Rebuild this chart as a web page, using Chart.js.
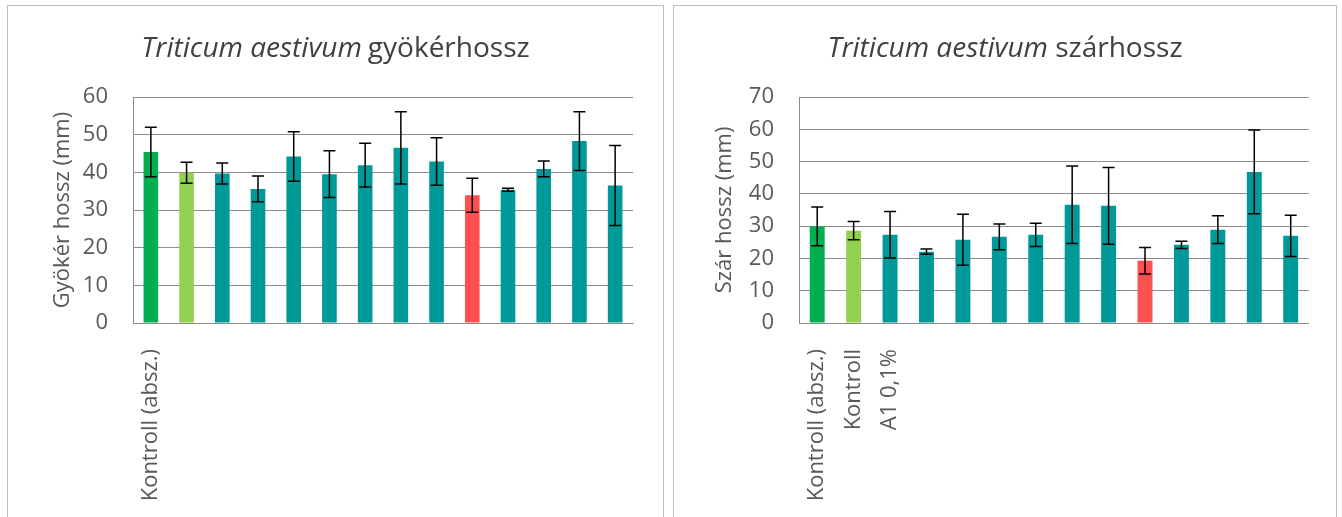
<!DOCTYPE html>
<html>
<head>
<meta charset="utf-8">
<script src="https://cdn.jsdelivr.net/npm/chart.js@4.4.0/dist/chart.umd.min.js"></script>
<style>
    html, body { margin: 0; padding: 0; background: #fff; overflow: hidden; }
    body { width: 1342px; height: 517px; position: relative; }
    .panel {
        position: absolute;
        top: 5px;
        height: 540px;
        border: 1px solid #bfbfbf;
        border-bottom: none;
        background: #fff;
    }
    #left { left: 7px; width: 655px; }
    #right { left: 673px; width: 662px; }
    canvas { display: block; }
</style>
</head>
<body>
<div class="panel" id="left"><canvas id="root" width="655" height="520"></canvas></div>
<div class="panel" id="right"><canvas id="shoot" width="662" height="520"></canvas></div>
<script>
// data
const rootLabels = ['Kontroll (absz.)', '', '', '', '', '', '', '', '', '', '', '', '', ''];
const rootMeans = [45.4, 39.9, 39.7, 35.6, 44.2, 39.5, 41.9, 46.5, 42.9, 33.9, 35.4, 40.9, 48.3, 36.5];
const rootErrors = [6.6, 2.8, 2.8, 3.4, 6.6, 6.2, 5.8, 9.6, 6.3, 4.5, 0.4, 2.1, 7.8, 10.6];
const rootTicks = [0, 60, 10];

const shootLabels = ['Kontroll (absz.)', 'Kontroll', 'A1 0,1%', '', '', '', '', '', '', '', '', '', '', ''];
const shootMeans = [29.9, 28.6, 27.3, 22.1, 25.8, 26.7, 27.3, 36.6, 36.3, 19.3, 24.2, 28.9, 46.8, 27.0];
const shootErrors = [6.0, 2.8, 7.2, 0.8, 7.9, 4.0, 3.6, 12.0, 11.9, 4.1, 1.1, 4.3, 13.0, 6.4];
const shootTicks = [0, 70, 10];

// ---------------------------------------------------------->

const teal = '#009999';
const barColors = ['#00B050', '#92D050', teal, teal, teal, teal, teal, teal, teal, '#FF5050', teal, teal, teal, teal];
const textColor = '#595959';
const gridColor = '#8c8c8c';
const family = '"Open Sans", sans-serif';

const errorBars = {
    id: 'errorBars',
    afterDatasetsDraw(chart, args, opts) {
        const { ctx } = chart;
        const y = chart.scales.y;
        const values = chart.data.datasets[0].data;
        ctx.save();
        ctx.strokeStyle = '#000';
        ctx.lineWidth = 1.5;
        chart.getDatasetMeta(0).data.forEach((bar, i) => {
            const top = y.getPixelForValue(values[i] + opts.errors[i]);
            const bottom = y.getPixelForValue(values[i] - opts.errors[i]);
            ctx.beginPath();
            ctx.moveTo(bar.x, top);
            ctx.lineTo(bar.x, bottom);
            ctx.moveTo(bar.x - 6, top);
            ctx.lineTo(bar.x + 6, top);
            ctx.moveTo(bar.x - 6, bottom);
            ctx.lineTo(bar.x + 6, bottom);
            ctx.stroke();
        });
        ctx.restore();
    },
};

// title with an italic species name and an upright rest
const splitTitle = {
    id: 'splitTitle',
    afterDraw(chart, args, opts) {
        const { ctx, width } = chart;
        ctx.save();
        ctx.fillStyle = '#404040';
        ctx.textBaseline = 'alphabetic';
        ctx.font = `italic 28px ${family}`;
        const w1 = ctx.measureText(opts.italic).width;
        ctx.font = `28px ${family}`;
        const w2 = ctx.measureText(opts.rest).width;
        const x = width / 2 - (w1 + opts.gap + w2) / 2;
        ctx.font = `italic 28px ${family}`;
        ctx.fillText(opts.italic, x, 51);
        ctx.font = `28px ${family}`;
        ctx.fillText(opts.rest, x + w1 + opts.gap, 51);
        ctx.restore();
    },
};

const makeChart = (id, labels, means, errors, ticks, yTitle, title, pad) => {
    new Chart(document.getElementById(id), {
        type: 'bar',
        data: {
            labels,
            datasets: [
                {
                    data: means,
                    backgroundColor: barColors,
                    borderWidth: 0,
                    categoryPercentage: 1,
                    barPercentage: 0.41,
                },
            ],
        },
        options: {
            responsive: false,
            animation: false,
            layout: { padding: { top: 91, left: pad.left, right: pad.right, bottom: 0 } },
            plugins: {
                legend: { display: false },
                tooltip: { enabled: false },
                errorBars: { errors },
                splitTitle: title,
            },
            scales: {
                x: {
                    grid: { display: false },
                    border: { color: gridColor },
                    ticks: {
                        autoSkip: false,
                        minRotation: 90,
                        maxRotation: 90,
                        padding: 18,
                        color: textColor,
                        font: { family, size: 22 },
                    },
                    afterFit: scale => {
                        scale.height = 203;
                    },
                },
                y: {
                    min: ticks[0],
                    max: ticks[1],
                    ticks: {
                        stepSize: ticks[2],
                        padding: 25,
                        color: textColor,
                        font: { family, size: 22 },
                    },
                    grid: { color: gridColor, drawTicks: false },
                    border: { color: gridColor },
                    title: {
                        display: true,
                        text: yTitle,
                        color: textColor,
                        font: { family, size: 22 },
                        padding: { top: pad.title, bottom: 0 },
                    },
                    afterFit: scale => {
                        scale.width = 95;
                    },
                },
            },
        },
        plugins: [errorBars, splitTitle],
    });
};

makeChart('root', rootLabels, rootMeans, rootErrors, rootTicks, 'Gyökér hossz (mm)',
    { italic: 'Triticum aestivum', rest: 'gyökérhossz', gap: 6 },
    { left: 30, right: 30, title: 12 });

makeChart('shoot', shootLabels, shootMeans, shootErrors, shootTicks, 'Szár hossz (mm)',
    { italic: 'Triticum aestivum', rest: ' szárhossz', gap: 0 },
    { left: 30, right: 25, title: 8 });
</script>
</body>
</html>
